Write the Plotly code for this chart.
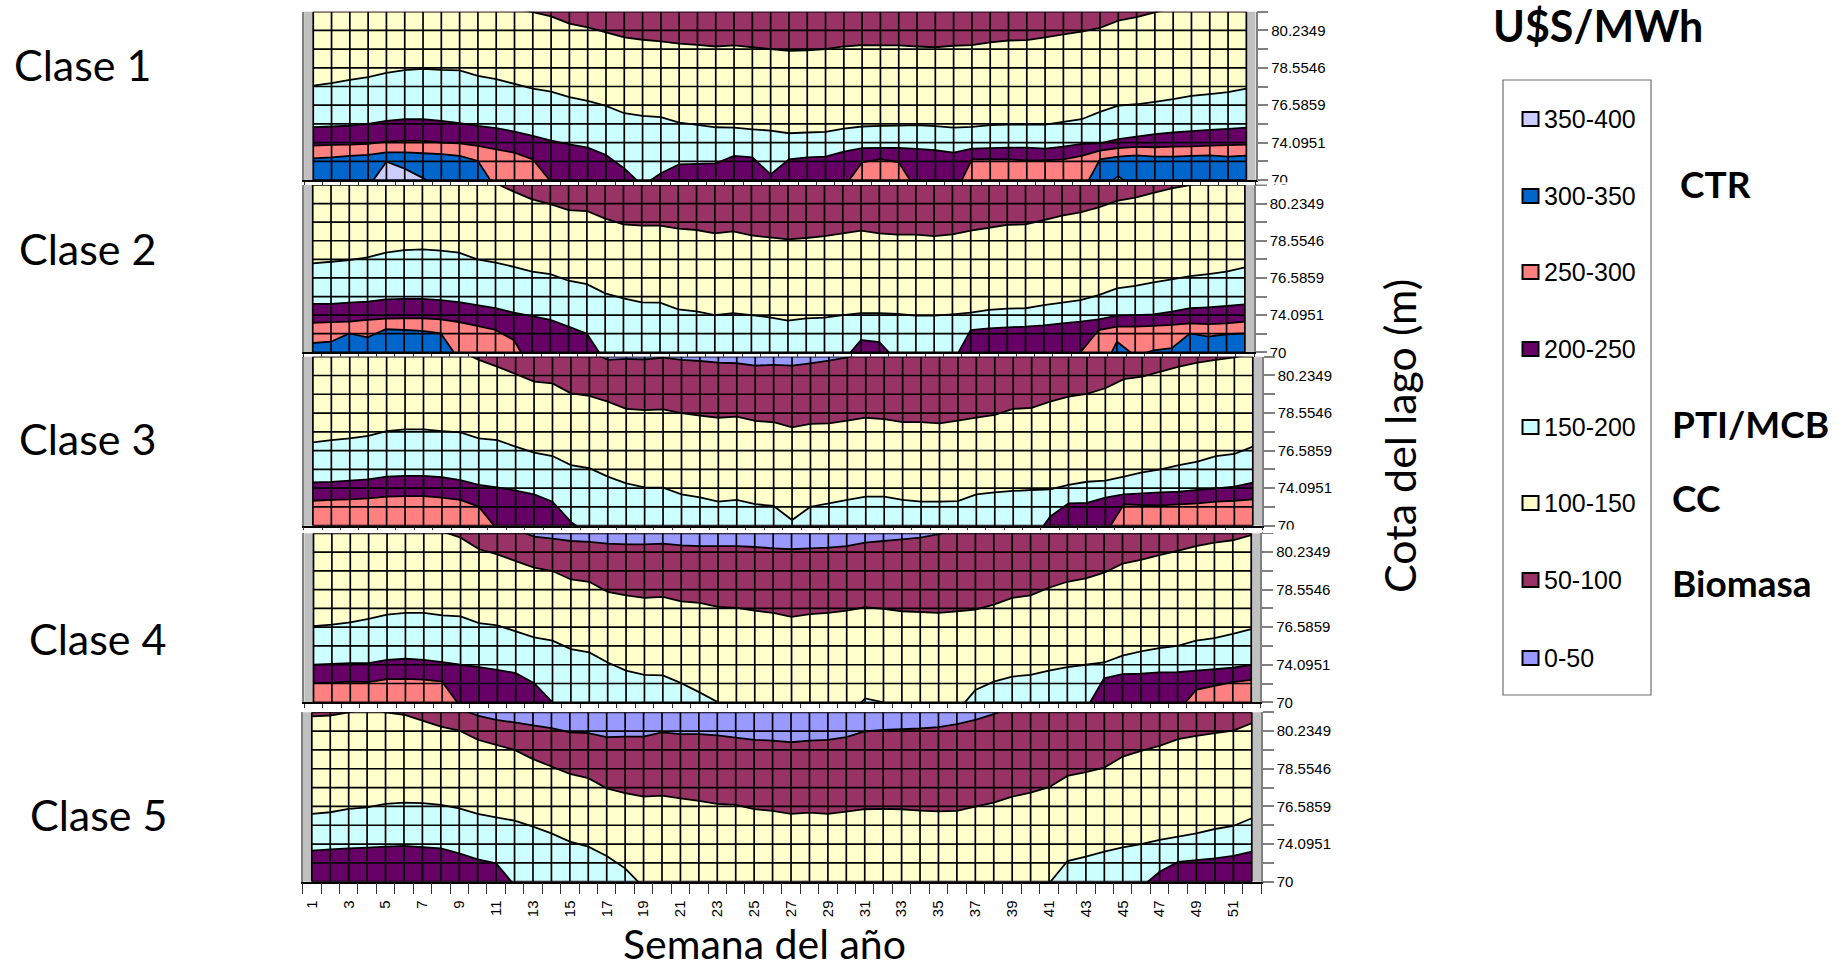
import plotly.graph_objects as go

W, H = 1848, 969
H_DRAWN = 961  # vertical extent the page actually gave the figure in the first render
weeks = list(range(1, 53))
row_labels = ["70", "", "74.0951", "", "76.5859", "", "78.5546", "", "80.2349", ""]
panel_names = ["Clase 1", "Clase 2", "Clase 3", "Clase 4", "Clase 5"]
range_labels = ["350-400", "300-350", "250-300", "200-250", "150-200", "100-150", "50-100", "0-50"]
range_colors = ["#CCCCFF", "#0066CC", "#FF8080", "#660066", "#CCFFFF", "#FFFFCC", "#993366", "#9999FF"]

# Boundary curves, in rows of the lake-level axis (0 = bottom row edge, 9 = top edge).
# Values outside 0..9 mean the band is off the chart in that week.
UP, LO = 9.5, -1
ceiling = [UP] * 52

c1_bio = [UP]*11 + [9.15, 8.98, 8.75, 8.36, 8.16, 7.9, 7.63, 7.5, 7.41, 7.29, 7.23, 7.14, 7.2, 7.1, 7.0,
          6.9, 6.93, 7.0, 7.14, 7.21, 7.2, 7.2, 7.14, 7.1, 7.18, 7.21, 7.36, 7.46, 7.48, 7.63, 7.79, 7.93, 8.14,
          8.52, 8.71, 8.96, 9.2, UP, UP, UP, UP]
c1_cc = [5.05, 5.18, 5.36, 5.5, 5.73, 5.88, 5.95, 5.89, 5.86, 5.57, 5.39, 5.14, 4.88,
         4.73, 4.43, 4.23, 3.96, 3.57, 3.43, 3.36, 3.07, 2.95, 2.82, 2.8, 2.71, 2.64,
         2.5, 2.54, 2.57, 2.75, 2.86, 2.89, 2.91, 2.93, 2.88, 2.8, 2.84, 2.93, 2.96, 2.96, 2.96, 3.11, 3.25,
         3.64, 3.98, 4.05, 4.18, 4.32, 4.5, 4.59, 4.7, 4.89]
c1_200 = [2.82, 2.86, 2.91, 3.0, 3.16, 3.25, 3.25, 3.16, 3.04, 2.89, 2.77, 2.59, 2.36,
          2.11, 1.91, 1.73, 1.34, 0.62, -0.3, 0.36, 0.84, 0.86, 0.89, 1.29, 1.21, 0.3,
          1.1, 1.21, 1.25, 1.52, 1.7, 1.71, 1.71, 1.66, 1.59, 1.46, 1.68, 1.7, 1.73, 1.73, 1.68, 1.79, 1.93,
          1.96, 2.18, 2.32, 2.45, 2.54, 2.61, 2.68, 2.73, 2.8]
c1_250 = [1.84, 1.88, 1.89, 1.93, 2.05, 2.11, 2.09, 2.0, 1.96, 1.82, 1.64, 1.46, 1.1, -0.1] + [LO]*15 + \
         [-0.4, 0.95, 1.12, 0.95, -0.6, LO, -0.9, 1.1, 1.12, 1.1, 1.05, 1.05, 1.1, 1.29, 1.57, 1.71, 1.77, 1.75,
          1.79, 1.8, 1.84, 1.86, 1.89]
c1_300 = [1.16, 1.21, 1.29, 1.34, 1.48, 1.48, 1.43, 1.38, 1.29, 1.02, -0.5] + [LO]*31 + \
         [-0.7, 1.1, 1.25, 1.32, 1.25, 1.25, 1.29, 1.32, 1.25, 1.3]
c1_350 = [LO]*3 + [-0.4, 0.98, 0.6, 0.1, -0.5] + [LO]*35 + [-0.5, 0.2, -0.5] + [LO]*6

c2_bio = [UP]*10 + [9.1, 8.64, 8.23, 7.97, 7.65, 7.6, 7.19, 6.88, 6.81, 6.81, 6.65, 6.58, 6.4, 6.5, 6.29, 6.18,
          6.08, 6.15, 6.25, 6.4, 6.54, 6.4, 6.33, 6.33, 6.25, 6.34, 6.54, 6.7, 6.85, 6.88, 7.11, 7.35, 7.53, 7.8,
          8.15, 8.32, 8.58, 8.82, 9.0, 9.3, UP, UP]
c2_cc = [4.78, 4.87, 4.96, 5.11, 5.36, 5.5, 5.54, 5.47, 5.36, 5.0, 4.82, 4.6, 4.34, 4.21, 3.85, 3.67, 3.17, 2.9,
         2.69, 2.67, 2.31, 2.2, 2.0, 2.1, 2.0, 1.88,
         1.7, 1.83, 1.86, 2.0, 2.1, 2.1, 2.06, 1.97, 1.97, 2.04, 2.13, 2.28, 2.35, 2.37, 2.54, 2.67, 2.81, 3.08,
         3.44, 3.57, 3.76, 3.92, 4.1, 4.21, 4.34, 4.57]
c2_200 = [2.6, 2.6, 2.67, 2.72, 2.85, 2.87, 2.87, 2.81, 2.7, 2.54, 2.37, 2.13, 1.95, 1.74, 1.38, 1.0, -0.5] + \
         [LO]*12 + [-0.5, 0.66, 0.55, -0.5, LO, LO, -0.6, 1.2, 1.29, 1.34, 1.38, 1.45, 1.56, 1.65, 1.77, 1.97, 2.0,
                    2.04, 2.19, 2.37, 2.42, 2.49, 2.58]
c2_250 = [1.59, 1.62, 1.65, 1.74, 1.81, 1.83, 1.83, 1.77, 1.63, 1.42, 1.2, 0.66] + [LO]*30 + \
         [0.0, 1.2, 1.38, 1.38, 1.42, 1.47, 1.56, 1.52, 1.56, 1.65]
c2_300 = [0.5, 0.57, 1.02, 0.8, 1.24, 1.2, 1.15, 1.02, -0.4] + [LO]*34 + \
         [-1.4, 0.57, -0.2, 0.1, 0.22, 1.02, 0.84, 0.97, 1.02]

c3_blue = [UP]*15 + [9.3, 8.83, 8.88, 8.85, 8.95, 8.83, 8.77, 8.68, 8.65, 8.53, 8.56,
                     8.53, 8.65, 8.79, 8.96, 9.3] + [UP]*21
c3_bio = [UP]*8 + [9.3, 8.83, 8.47, 8.08, 7.67, 7.58, 7.05, 6.91, 6.61, 6.22, 6.16, 6.2, 5.99, 5.86, 5.75, 5.81,
                   5.58, 5.51, 5.24, 5.42, 5.45, 5.6, 5.75, 5.68, 5.52, 5.52, 5.45, 5.6, 5.75, 5.9, 6.22, 6.27,
                   6.61, 6.87, 7.02, 7.32, 7.8, 7.94, 8.21, 8.47, 8.68, 8.83, 8.96, 9.2]
c3_cc = [4.44, 4.56, 4.65, 4.78, 5.04, 5.13, 5.13, 5.04, 4.97, 4.65, 4.56, 4.21, 3.89, 3.71, 3.23, 3.06, 2.61, 2.26,
         2.04, 2.02, 1.67, 1.51, 1.28, 1.37, 1.15, 1.05,
         0.3, 1.01, 1.19, 1.37, 1.55, 1.55, 1.37, 1.28, 1.28, 1.31, 1.67, 1.78, 1.85, 1.9, 1.94, 2.17, 2.34, 2.4,
         2.61, 2.84, 3.0, 3.23, 3.41, 3.71, 3.82, 4.21]
c3_200 = [2.31, 2.33, 2.4, 2.47, 2.61, 2.65, 2.65, 2.58, 2.43, 2.17, 2.04, 1.87, 1.67, 1.28, 0.2, -0.5] + [LO]*23 + \
         [-0.9, 0.48, 1.19, 1.22, 1.49, 1.67, 1.72, 1.78, 1.81, 1.9, 1.99, 2.08, 2.29]
c3_250 = [1.33, 1.37, 1.4, 1.46, 1.55, 1.58, 1.58, 1.49, 1.37, 1.01, -0.2] + [LO]*32 + \
         [-0.45, 1.14, 1.1, 1.08, 1.14, 1.19, 1.28, 1.33, 1.4]

c4_blue = [UP]*11 + [9.2, 8.82, 8.72, 8.59, 8.54, 8.45, 8.41, 8.41, 8.45, 8.36, 8.32, 8.32, 8.32, 8.27, 8.2,
                     8.15, 8.2, 8.24, 8.32, 8.5, 8.59, 8.68, 8.77, 8.95, 9.2] + [UP]*16
c4_bio = [UP]*7 + [9.1, 8.77, 8.15, 7.88, 7.52, 7.17, 6.99, 6.54, 6.42, 5.88, 5.69, 5.56, 5.61, 5.38, 5.29, 5.08,
                   5.03, 4.88, 4.76, 4.55, 4.7, 4.76, 4.88, 5.06, 4.97, 4.85, 4.81, 4.76, 4.85, 4.94, 5.2, 5.56,
                   5.7, 6.1, 6.42, 6.6, 6.9, 7.38, 7.58, 7.84, 8.06, 8.32, 8.5, 8.63, 8.9]
c4_cc = [4.05, 4.14, 4.26, 4.44, 4.67, 4.76, 4.76, 4.63, 4.58, 4.22, 4.1, 3.78, 3.46, 3.28, 2.83, 2.66, 2.12, 1.69,
         1.46, 1.43, 1.02, 0.53, 0.0] + [LO]*6 + [-0.8, 0.21, 0.0, LO, LO, LO, -0.5, 0.66, 1.1, 1.37, 1.46, 1.69,
                                                  1.87, 2.0, 2.12, 2.48, 2.71, 2.89, 3.01, 3.28, 3.42, 3.65, 3.9]
c4_200 = [2.0, 2.05, 2.09, 2.09, 2.26, 2.32, 2.26, 2.14, 2.0, 1.87, 1.73, 1.55, 1.02, 0.0] + [LO]*28 + \
         [-0.4, 1.28, 1.5, 1.52, 1.59, 1.6, 1.69, 1.76, 1.84, 2.0]
c4_250 = [1.02, 1.05, 1.1, 1.07, 1.23, 1.25, 1.21, 1.1, -0.25] + [LO]*38 + [-0.5, 0.66, 0.87, 1.07, 1.19]

c5_blue = [UP]*8 + [9.2, 8.82, 8.6, 8.46, 8.3, 8.16, 7.94, 7.89, 7.68, 7.71, 7.71, 7.93, 7.84, 7.84, 7.77, 7.66,
                    7.54, 7.5, 7.41, 7.5, 7.54, 7.68, 7.98, 8.07, 8.1, 8.14, 8.21, 8.37, 8.6, 8.9, 9.3] + [UP]*13
c5_bio = [8.78, 8.83, 9.0, 9.2, 9.0, 8.87, 8.56, 8.24, 8.03, 7.54, 7.27, 7.0, 6.51, 6.12, 5.73, 5.5, 4.96, 4.7,
          4.52, 4.57, 4.43, 4.29, 4.13, 4.08, 3.85, 3.76,
          3.6, 3.67, 3.6, 3.72, 3.85, 3.87, 3.85, 3.78, 3.74, 3.76, 3.99, 4.2, 4.52, 4.73, 5.02, 5.62, 5.82, 6.06,
          6.65, 6.95, 7.22, 7.57, 7.75, 7.89, 8.03, 8.42]
c5_cc = [3.6, 3.69, 3.87, 3.95, 4.13, 4.2, 4.17, 4.08, 3.9, 3.6, 3.42, 3.24, 2.93, 2.57, 2.13, 1.86, 1.37, 0.71,
         -0.3] + [LO]*21 + [-0.1, 1.1, 1.33, 1.6, 1.83, 2.0, 2.22, 2.39, 2.57, 2.8, 2.96, 3.37]
c5_200 = [1.65, 1.72, 1.77, 1.81, 1.86, 1.9, 1.83, 1.77, 1.51, 1.19, 0.98, -0.2] + [LO]*33 + \
         [-0.3, 0.53, 1.05, 1.15, 1.24, 1.37, 1.6]

BLUE, BIO, CC, PTI, DARK, SALMON, CTR, LAV = ("#9999FF", "#993366", "#FFFFCC", "#CCFFFF",
                                               "#660066", "#FF8080", "#0066CC", "#CCCCFF")
# Each list boundary paints, from the curve down, the next dearer price band.
panels = [
    dict(base=BIO, curves=[(c1_bio, CC), (c1_cc, PTI), (c1_200, DARK), (c1_250, SALMON), (c1_300, CTR), (c1_350, LAV)],
         dom=(304.1, 1255.5, 11.7, 180.0), tick=3),
    dict(base=BIO, curves=[(c2_bio, CC), (c2_cc, PTI), (c2_200, DARK), (c2_250, SALMON), (c2_300, CTR)],
         dom=(303.6, 1254.0, 185.0, 352.3), tick=3),
    dict(base=BLUE, curves=[(c3_blue, BIO), (c3_bio, CC), (c3_cc, PTI), (c3_200, DARK), (c3_250, SALMON)],
         dom=(303.7, 1262.0, 356.7, 525.7), tick=3),
    dict(base=BLUE, curves=[(c4_blue, BIO), (c4_bio, CC), (c4_cc, PTI), (c4_200, DARK), (c4_250, SALMON)],
         dom=(304.3, 1260.4, 533.3, 702.3), tick=4),
    dict(base=BLUE, curves=[(c5_blue, BIO), (c5_bio, CC), (c5_cc, PTI), (c5_200, DARK)],
         dom=(302.6, 1261.0, 712.3, 881.7), tick=11),
]


def px(x):
    return x / W


def py(y):
    return 1 - y / H_DRAWN


fig = go.Figure()
layout = dict(width=W, height=H, margin=dict(l=0, r=0, t=0, b=0), paper_bgcolor="white", showlegend=False,
              hovermode=False, font=dict(family="Liberation Sans", color="black"))
AXFONT = dict(family="Liberation Sans", size=15, color="black")

for i, p in enumerate(panels):
    sfx = "" if i == 0 else str(i + 1)
    xa, ya = "x" + sfx, "y" + sfx
    x0, x1, y0, y1 = p["dom"]
    last = i == len(panels) - 1
    layout["xaxis" + sfx] = dict(
        domain=[px(x0), px(x1)], range=[0.5, 52.5], anchor=ya, showgrid=False, zeroline=False,
        showline=True, linecolor="black", linewidth=1.5,
        tickmode="array", tickvals=weeks[::2], ticktext=[str(w) for w in weeks[::2]], tickangle=-90,
        showticklabels=last, ticks="outside", ticklen=p["tick"], tickcolor="rgba(0,0,0,0)", tickfont=AXFONT,
        minor=dict(tickmode="array", tickvals=[w - 0.5 for w in weeks] + [52.5], ticks="outside",
                   ticklen=p["tick"], tickcolor="#303030", tickwidth=1.2, showgrid=False))
    layout["yaxis" + sfx] = dict(
        domain=[py(y1), py(y0)], range=[0, 9], anchor=xa, side="right", showgrid=False, zeroline=False,
        showline=True, linecolor="#808080", linewidth=1.5, mirror=True,
        tickmode="array", tickvals=list(range(10)), ticktext=row_labels, ticks="outside", ticklen=11,
        tickcolor="#808080", tickwidth=1.5, tickfont=AXFONT)
    layout["plot_bgcolor"] = "#C0C0C0"

    fig.add_trace(go.Scatter(x=weeks, y=ceiling, mode="lines", line=dict(width=0), fill="tozeroy",
                             fillcolor=p["base"], xaxis=xa, yaxis=ya, hoverinfo="skip"))
    for curve, colour in p["curves"]:
        assert len(curve) == 52
        fig.add_trace(go.Scatter(x=weeks, y=curve, mode="lines", line=dict(color="black", width=1.8, simplify=False),
                                 fill="tozeroy", fillcolor=colour, xaxis=xa, yaxis=ya, hoverinfo="skip"))
    gx, gy = [], []
    for w in weeks:
        gx += [w, w, None]
        gy += [0, 9, None]
    for r in range(10):
        gx += [1, 52, None]
        gy += [r, r, None]
    fig.add_trace(go.Scatter(x=gx, y=gy, mode="lines", line=dict(color="black", width=1.7), cliponaxis=False,
                             xaxis=xa, yaxis=ya, hoverinfo="skip", connectgaps=False))

shapes = [
    dict(type="rect", xref="paper", yref="paper", x0=px(1256.5), x1=px(1340), y0=py(184.4), y1=py(182.2),
         fillcolor="white", line=dict(width=0), layer="above"),
    dict(type="rect", xref="paper", yref="paper", x0=px(1263), x1=px(1340), y0=py(533), y1=py(529.5),
         fillcolor="white", line=dict(width=0), layer="above"),
    dict(type="rect", xref="paper", yref="paper", x0=px(1503), x1=px(1651), y0=py(695), y1=py(80),
         fillcolor="white", line=dict(color="#707070", width=1.2), layer="above"),
]
ann = []
TXT = "Lato"


def text(s, x, y, size, bold=False, anchor="center", angle=0, family=TXT):
    ann.append(dict(text=("<b>%s</b>" % s) if bold else s, x=px(x), y=py(y), xref="paper", yref="paper",
                    xanchor=anchor, yanchor="middle", showarrow=False, textangle=angle,
                    font=dict(family=family, size=size, color="black")))


item_y = [119, 196, 272, 349, 427, 503, 580, 658]
for lab, col, yy in zip(range_labels, range_colors, item_y):
    shapes.append(dict(type="rect", xref="paper", yref="paper", x0=px(1522.5), x1=px(1538.5), y0=py(yy + 7),
                       y1=py(yy - 7), fillcolor=col, line=dict(color="black", width=2), layer="above"))
    text(lab, 1542, yy, 25, anchor="left", family="Liberation Sans")

for name, x, y in zip(panel_names, [83, 88, 88, 98, 99], [64, 248, 438, 638, 814]):
    text(name, x, y, 43)
text("Semana del año", 764, 943, 41)
text("Cota del lago (m)", 1399, 436, 43, angle=-90)
text("U$S/MWh", 1598, 26, 43, bold=True)
text("CTR", 1715, 183, 37, bold=True)
text("PTI/MCB", 1670, 423, 37, bold=True, anchor="left")
text("CC", 1670, 497, 37, bold=True, anchor="left")
text("Biomasa", 1670, 582, 37, bold=True, anchor="left")

layout["shapes"] = shapes
layout["annotations"] = ann
fig.update_layout(**layout)
fig.write_html("out.html", config=dict(displayModeBar=False),
               post_script="document.body.style.margin='0';document.documentElement.style.overflow='hidden';")
